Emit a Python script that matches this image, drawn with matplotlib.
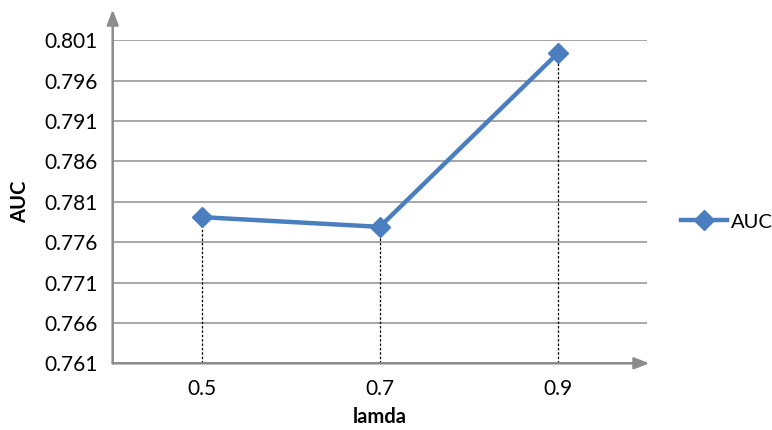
import matplotlib
matplotlib.use("Agg")
import matplotlib.pyplot as plt

# Data
lamda_labels = ["0.5", "0.7", "0.9"]
auc_values = [0.7791, 0.7779, 0.7994]
y_ticks = [0.761, 0.766, 0.771, 0.776, 0.781, 0.786, 0.791, 0.796, 0.801]

plt.rcParams["font.family"] = ["Lato", "DejaVu Sans"]

line_color = "#4A7EBF"
grid_color = "#A6A6A6"
axis_color = "#8C8C8C"

fig = plt.figure(figsize=(7.72, 4.30), dpi=100)
ax = fig.add_axes([0.146, 0.1551, 0.6918, 0.7512])

x = list(range(len(lamda_labels)))

# Drop lines from each point down to the category axis
ax.vlines(x, y_ticks[0], auc_values, colors="black", linestyles=(0, (2, 1.5)),
          linewidth=0.9, zorder=2)

ax.plot(x, auc_values, color=line_color, linewidth=3.2, marker="D",
        markersize=10, markerfacecolor=line_color, markeredgecolor=line_color,
        label="AUC", zorder=3)

ax.set_xlim(-0.5, len(lamda_labels) - 0.5)
ax.set_ylim(y_ticks[0], y_ticks[-1])
ax.set_xticks(x)
ax.set_xticklabels(lamda_labels)
ax.set_yticks(y_ticks)
ax.set_yticklabels([f"{v:.3f}" for v in y_ticks])

ax.yaxis.grid(True, color=grid_color, linewidth=1.4)
ax.set_axisbelow(True)
for s in ax.spines.values():
    s.set_visible(False)
ax.tick_params(axis="both", length=0, labelsize=15, colors="black")
ax.tick_params(axis="y", pad=11)
ax.tick_params(axis="x", pad=11)

# Axis lines with arrow heads
ax.annotate("", xy=(0, 1.095), xytext=(0, 0), xycoords="axes fraction",
            arrowprops=dict(arrowstyle="-|>,head_length=0.9,head_width=0.35",
                            color=axis_color, lw=1.8, shrinkA=0, shrinkB=0),
            annotation_clip=False)
ax.annotate("", xy=(1.005, 0), xytext=(0, 0), xycoords="axes fraction",
            arrowprops=dict(arrowstyle="-|>,head_length=0.9,head_width=0.35",
                            color=axis_color, lw=1.8, shrinkA=0, shrinkB=0),
            annotation_clip=False)

ax.set_xlabel("lamda", fontsize=14.5, fontweight="bold", labelpad=6)
ax.set_ylabel("AUC", fontsize=14.5, fontweight="bold", labelpad=10)

ax.legend(loc="center left", bbox_to_anchor=(1.064, 0.4375), frameon=False,
          fontsize=14.5, handlelength=2.3, handletextpad=0.2, borderaxespad=0,
          borderpad=0)

fig.savefig("out.png", dpi=100, facecolor="white")
